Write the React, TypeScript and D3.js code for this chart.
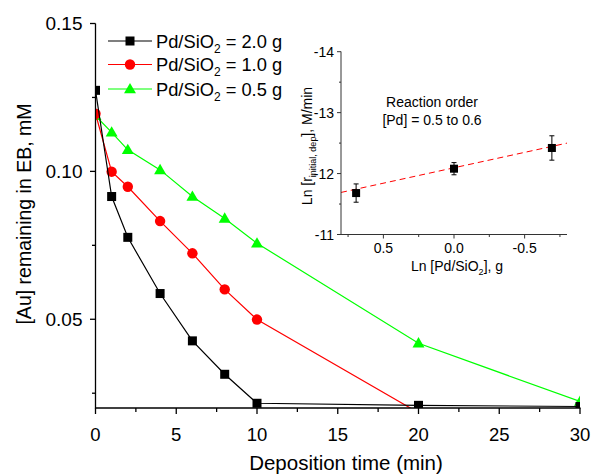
import React from 'react';
import * as d3 from 'd3';

// deposition time (min)
const times = [0, 1, 2, 4, 6, 8, 10, 20, 30];
// [Au] remaining in EB (mM) for each catalyst load
const au20 = [0.1274, 0.0915, 0.0777, 0.0587, 0.0427, 0.0314, 0.0216, 0.0209, 0.0205];
const au10 = [0.1195, 0.0999, 0.0948, 0.0832, 0.0723, 0.0601, 0.0499, 0.0184, 0.0184];
const au05 = [0.1188, 0.1132, 0.1073, 0.1005, 0.0915, 0.0841, 0.0757, 0.0419, 0.0222];
const seriesLabels = ['2.0 g', '1.0 g', '0.5 g'];

const xTicks = [0, 5, 10, 15, 20, 25, 30];
const yTicks = [0.05, 0.1, 0.15];
const yTickLabels = ['0.05', '0.10', '0.15'];

// inset: reaction order
const lnPd = [0.693, 0, -0.693];
const lnRate = [-11.68, -12.08, -12.42];
const rateErr = [0.15, 0.1, 0.2];
const fitSlope = 0.506;
const fitIntercept = -12.095;
const insetXTicks = [0.5, 0, -0.5];
const insetXLabels = ['0.5', '0.0', '-0.5'];
const insetYTicks = [-11, -12, -13, -14];

const FONT = 'Liberation Sans, Arial, Helvetica, sans-serif';

const App = () => {
  const x = d3.scaleLinear().domain([0, 30]).range([95.5, 580]);
  const y = d3.scaleLinear().domain([0.02, 0.15]).range([408, 23.5]);

  const ix = d3.scaleLinear().domain([0.8, -0.8]).range([341, 567]);
  const iy = d3.scaleLinear().domain([-11, -14]).range([234.5, 51.7]);

  const line = d3.line<[number, number]>().x(d => x(d[0])).y(d => y(d[1]));

  const series = [
    { vals: au05, color: '#00ff00', shape: 'tri' },
    { vals: au10, color: '#ff0000', shape: 'circle' },
    { vals: au20, color: '#000000', shape: 'square' },
  ];
  const legend = [
    { label: seriesLabels[0], color: '#000000', shape: 'square' },
    { label: seriesLabels[1], color: '#ff0000', shape: 'circle' },
    { label: seriesLabels[2], color: '#00ff00', shape: 'tri' },
  ];

  const marker = (shape: string, cx: number, cy: number, color: string, key?: any) => {
    if (shape === 'square') return <rect key={key} x={cx - 4.5} y={cy - 4.5} width={9} height={9} fill={color} />;
    if (shape === 'circle') return <circle key={key} cx={cx} cy={cy} r={5.2} fill={color} />;
    const s = d3.symbol().type(d3.symbolTriangle).size(62)();
    return <path key={key} d={s as string} transform={`translate(${cx},${cy + 0.8})`} fill={color} />;
  };

  const yMinor = d3.range(0.025, 0.15, 0.05);
  const xMinor = d3.range(2.5, 30, 5);
  const iyMinor = [-11.5, -12.5, -13.5];
  const ixMinor = [0.75, 0.25, -0.25, -0.75];

  const fitX = ix.domain();
  const t = { fontFamily: FONT, fill: '#000' };

  return (
    <svg width={594} height={474} style={{ position: 'absolute', left: 0, top: 0, background: '#fff' }}>
      <defs>
        <clipPath id="plotClip">
          <rect x={95.5} y={20} width={484.5} height={388} />
        </clipPath>
      </defs>

      {/* main data */}
      <g clipPath="url(#plotClip)">
        {series.map((s, i) => (
          <g key={i}>
            <path d={line(times.map((tm, j) => [tm, s.vals[j]]) as [number, number][]) as string}
              fill="none" stroke={s.color} strokeWidth={1.2} />
            {times.map((tm, j) => marker(s.shape, x(tm), y(s.vals[j]), s.color, j))}
          </g>
        ))}
      </g>

      {/* main axes */}
      <line x1={95.5} x2={95.5} y1={23.5} y2={408.5} stroke="#000" strokeWidth={1.3} />
      <line x1={95} x2={580.5} y1={408} y2={408} stroke="#000" strokeWidth={1.3} />
      {yTicks.map((v, i) => (
        <g key={v}>
          <line x1={90} x2={95.5} y1={y(v)} y2={y(v)} stroke="#000" strokeWidth={1.3} />
          <text x={82.5} y={y(v) + 6.5} textAnchor="end" fontSize={19} {...t}>{yTickLabels[i]}</text>
        </g>
      ))}
      {yMinor.map(v => <line key={v} x1={92} x2={95.5} y1={y(v)} y2={y(v)} stroke="#000" strokeWidth={1.3} />)}
      {xTicks.map(v => (
        <g key={v}>
          <line x1={x(v)} x2={x(v)} y1={408} y2={414} stroke="#000" strokeWidth={1.3} />
          <text x={x(v)} y={441} textAnchor="middle" fontSize={18.5} {...t}>{v}</text>
        </g>
      ))}
      {xMinor.map(v => <line key={v} x1={x(v)} x2={x(v)} y1={408} y2={412} stroke="#000" strokeWidth={1.3} />)}

      <text x={346} y={470} textAnchor="middle" fontSize={20.5} {...t}>Deposition time (min)</text>
      <text transform="translate(31,214) rotate(-90)" textAnchor="middle" fontSize={19.5} {...t}>[Au] remaining in EB, mM</text>

      {/* legend */}
      {legend.map((l, i) => {
        const ly = [41, 64.5, 89][i];
        return (
          <g key={i}>
            <line x1={108} x2={152} y1={ly} y2={ly} stroke={l.color} strokeWidth={1.2} />
            {marker(l.shape, 130, ly, l.color)}
            <text x={156} y={ly + 6.5} fontSize={18.3} {...t}>
              Pd/SiO<tspan fontSize={12} dy={5}>2</tspan><tspan dy={-5}> = {l.label}</tspan>
            </text>
          </g>
        );
      })}

      {/* inset */}
      <line x1={ix(fitX[0])} y1={iy(fitIntercept + fitSlope * fitX[0])}
        x2={ix(fitX[1])} y2={iy(fitIntercept + fitSlope * fitX[1])}
        stroke="#ff0000" strokeWidth={1} strokeDasharray="6,4" />
      {lnPd.map((v, i) => (
        <g key={i}>
          <line x1={ix(v)} x2={ix(v)} y1={iy(lnRate[i] - rateErr[i])} y2={iy(lnRate[i] + rateErr[i])} stroke="#000" strokeWidth={1} />
          <line x1={ix(v) - 2.5} x2={ix(v) + 2.5} y1={iy(lnRate[i] - rateErr[i])} y2={iy(lnRate[i] - rateErr[i])} stroke="#000" strokeWidth={1} />
          <line x1={ix(v) - 2.5} x2={ix(v) + 2.5} y1={iy(lnRate[i] + rateErr[i])} y2={iy(lnRate[i] + rateErr[i])} stroke="#000" strokeWidth={1} />
          <rect x={ix(v) - 4} y={iy(lnRate[i]) - 4} width={8} height={8} fill="#000" />
        </g>
      ))}
      <line x1={341} x2={341} y1={51.5} y2={234.5} stroke="#333" strokeWidth={1} />
      <line x1={340.5} x2={567} y1={234.5} y2={234.5} stroke="#333" strokeWidth={1} />
      {insetYTicks.map(v => (
        <g key={v}>
          <line x1={337} x2={341} y1={iy(v)} y2={iy(v)} stroke="#333" strokeWidth={1} />
          <text x={334} y={iy(v) + 5} textAnchor="end" fontSize={14} {...t}>{v}</text>
        </g>
      ))}
      {iyMinor.map(v => <line key={v} x1={339} x2={341} y1={iy(v)} y2={iy(v)} stroke="#333" strokeWidth={1} />)}
      {insetXTicks.map((v, i) => (
        <g key={v}>
          <line x1={ix(v)} x2={ix(v)} y1={234.5} y2={238.5} stroke="#333" strokeWidth={1} />
          <text x={ix(v)} y={253} textAnchor="middle" fontSize={14} {...t}>{insetXLabels[i]}</text>
        </g>
      ))}
      {ixMinor.map(v => <line key={v} x1={ix(v)} x2={ix(v)} y1={234.5} y2={237} stroke="#333" strokeWidth={1} />)}

      <text x={457} y={271} textAnchor="middle" fontSize={14} {...t}>
        Ln [Pd/SiO<tspan fontSize={9} dy={4}>2</tspan><tspan dy={-4}>], g</tspan>
      </text>
      <text transform="translate(312,146) rotate(-90)" textAnchor="middle" fontSize={14} {...t}>
        Ln [r<tspan fontSize={9} dy={4}>initial, dep</tspan><tspan dy={-4}>], M/min</tspan>
      </text>
      <text x={432} y={107} textAnchor="middle" fontSize={14} {...t}>Reaction order</text>
      <text x={432} y={125} textAnchor="middle" fontSize={14} {...t}>[Pd] = 0.5 to 0.6</text>
    </svg>
  );
};

export default App;
